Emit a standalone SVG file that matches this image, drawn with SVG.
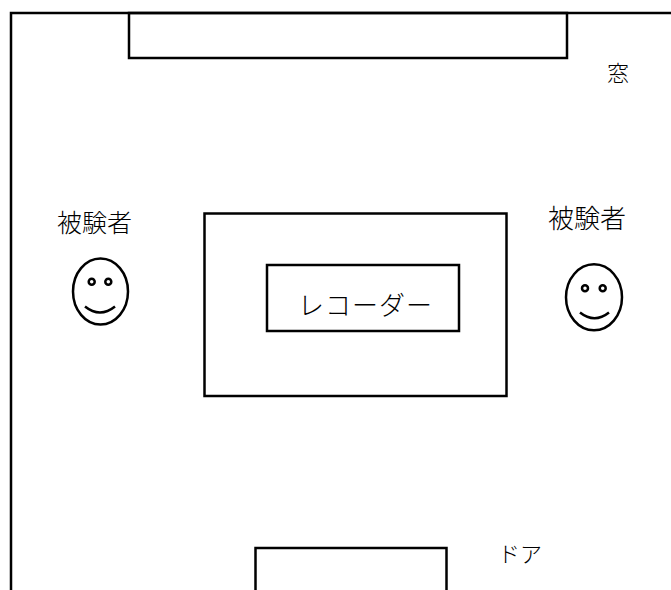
<svg xmlns="http://www.w3.org/2000/svg" width="671" height="590" viewBox="0 0 671 590">
<style>
.ln{fill:none;stroke:#000;stroke-width:2.5}
.tx{font-family:"Noto Sans CJK JP","Noto Sans CJK SC",sans-serif;fill:#000;font-weight:300}
</style>
<rect width="671" height="590" fill="#fff"/>
<g id="room">
<path class="ln" d="M11 590 V13 H671" stroke-width="3"/>
</g>
<g id="window">
<rect class="ln" x="129" y="13" width="438" height="45" stroke-width="2.2"/>
<text class="tx" x="607" y="81" font-size="22">窓</text>
</g>
<g id="subject-left">
<text class="tx" x="57" y="232" font-size="25">被験者</text>
<ellipse class="ln" cx="100.5" cy="291.5" rx="27.5" ry="33" stroke-width="2"/>
<circle class="ln" cx="91.7" cy="281.7" r="3" stroke-width="2.2"/>
<circle class="ln" cx="108.3" cy="281.7" r="3" stroke-width="2.2"/>
<path class="ln" d="M85 306.5 Q100 318.5 115 306.5" stroke-width="2"/>
</g>
<g id="subject-right">
<text class="tx" x="548" y="228" font-size="26">被験者</text>
<ellipse class="ln" cx="594" cy="297.3" rx="28" ry="33" stroke-width="2"/>
<circle class="ln" cx="585" cy="288.3" r="3" stroke-width="2.2"/>
<circle class="ln" cx="602.7" cy="288.3" r="3" stroke-width="2.2"/>
<path class="ln" d="M580 312.5 Q594.5 324 609 312.5" stroke-width="2"/>
</g>
<g id="table">
<rect class="ln" x="204.5" y="213.5" width="302" height="182.5"/>
</g>
<g id="recorder">
<rect class="ln" x="267" y="265" width="192" height="66"/>
<text class="tx" x="298" y="315" font-size="26" letter-spacing="1">レコーダー</text>
</g>
<g id="door">
<path class="ln" d="M255.5 590 V548 H446.5 V590"/>
<text class="tx" x="498" y="562" font-size="22">ドア</text>
</g>
</svg>
